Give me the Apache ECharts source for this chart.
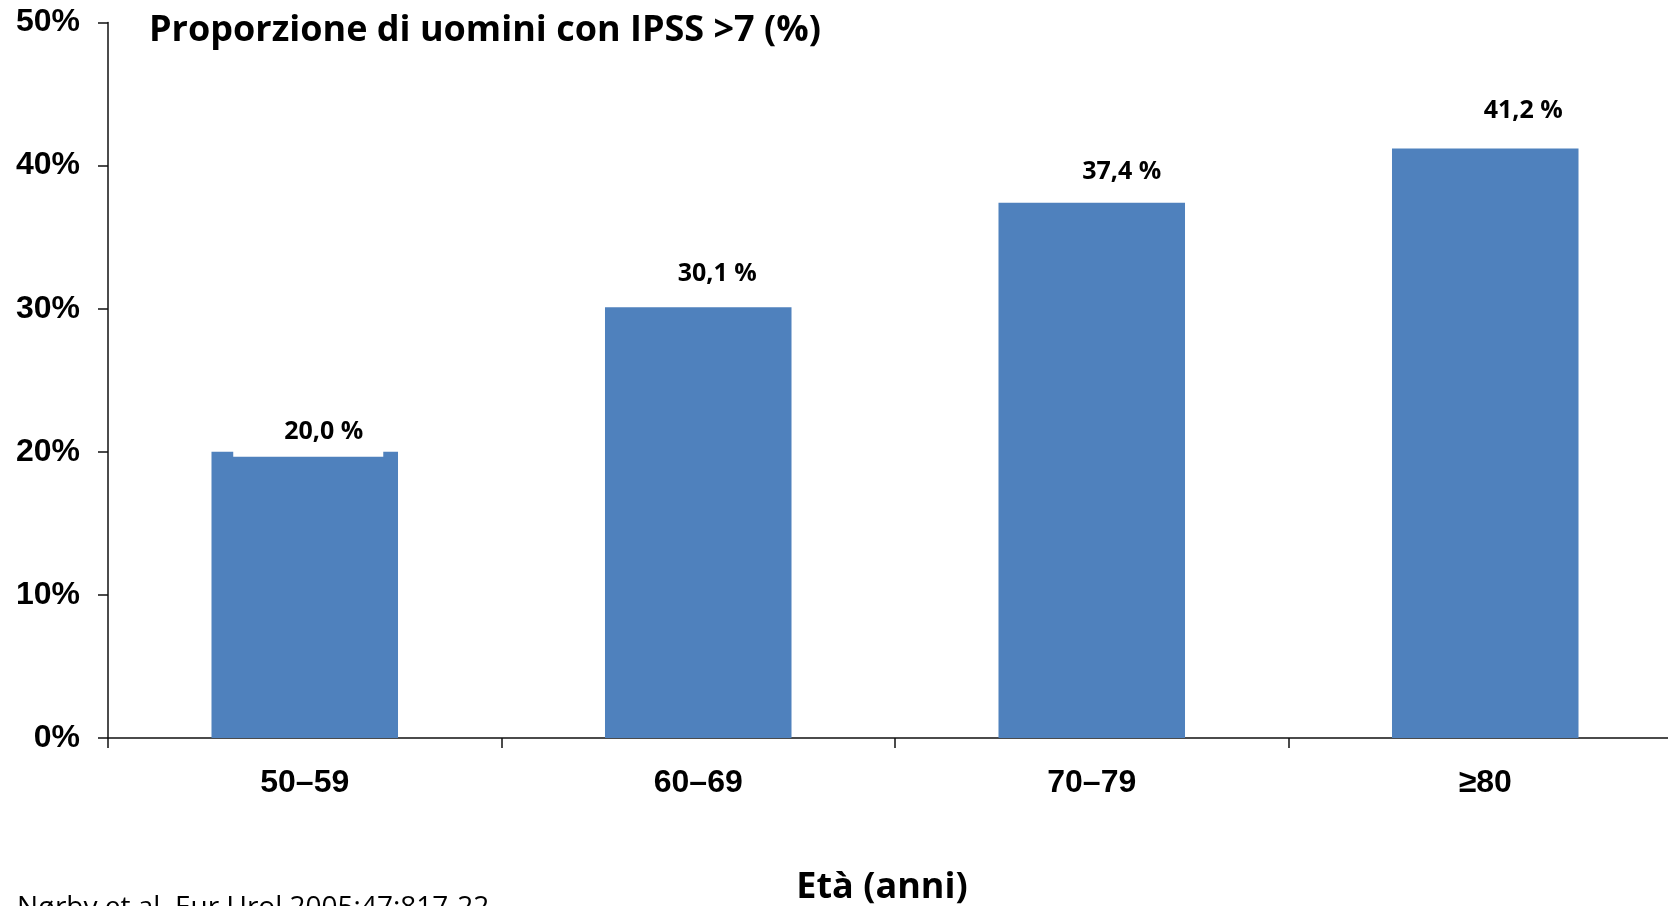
<!DOCTYPE html>
<html>
<head>
<meta charset="utf-8">
<script src="https://cdn.jsdelivr.net/npm/echarts@6/dist/echarts.min.js"></script>
<style>
  html, body { margin: 0; padding: 0; background: #ffffff; }
  #chart { width: 1668px; height: 906px; }
</style>
</head>
<body>
<div id="chart"></div>
<script>
// Age groups and share of men with IPSS > 7 (percent)
var ageGroups = ['50–59', '60–69', '70–79', '≥80'];
var ipssShare = [20.0, 30.1, 37.4, 41.2];
var yTicks = [0, 10, 20, 30, 40, 50];

var titleText = 'Proporzione di uomini con IPSS >7 (%)';
var axisTitle = 'Età (anni)';
var sourceText = 'Nørby et al. Eur Urol 2005;47:817-22';

function fmtPct(v) {
  return v.toFixed(1).replace('.', ',') + ' %';
}

// hand-placed value labels: [dx, distance above bar]
var labelPlacement = [[19, 7], [19, 21], [30, 18], [38, 25]];

var chart = echarts.init(document.getElementById('chart'), null, { renderer: 'canvas' });

var barData = ipssShare.map(function (v, i) {
  var p = labelPlacement[i];
  var item = {
    value: v,
    label: { offset: [p[0], 0], distance: p[1] }
  };
  if (i === 0) {
    // label box with white backing that bites into the top of the first bar
    item.label = {
      offset: [3.5, 0],
      distance: -5,
      backgroundColor: '#ffffff',
      padding: [0, 20, 12, 51]
    };
  }
  return item;
});

chart.setOption({
  animation: false,
  backgroundColor: '#ffffff',
  // plot area runs past the right edge of the canvas
  grid: { left: 108, top: 22.5, bottom: 168, width: 1574, containLabel: false, outerBoundsMode: 'none' },
  xAxis: {
    type: 'category',
    data: ageGroups,
    boundaryGap: true,
    axisLine: { show: true, lineStyle: { color: '#111', width: 1.5 } },
    axisTick: { show: true, length: 10, inside: false, lineStyle: { color: '#111', width: 1.5 } },
    axisLabel: {
      margin: 29,
      color: '#000',
      fontFamily: 'Liberation Sans',
      fontWeight: 'bold',
      fontSize: 32
    }
  },
  yAxis: {
    type: 'value',
    min: yTicks[0],
    max: yTicks[yTicks.length - 1],
    interval: yTicks[1] - yTicks[0],
    splitLine: { show: false },
    axisLine: { show: true, lineStyle: { color: '#111', width: 1.5 } },
    axisTick: { show: true, length: 10, inside: false, lineStyle: { color: '#111', width: 1.5 } },
    axisLabel: {
      margin: 28,
      color: '#000',
      fontFamily: 'Liberation Sans',
      fontWeight: 'bold',
      fontSize: 32,
      formatter: '{value}%'
    }
  },
  series: [{
    type: 'bar',
    data: barData,
    barWidth: '47.4%',
    itemStyle: { color: '#4F81BD' },
    label: {
      show: true,
      position: 'top',
      color: '#000',
      fontFamily: 'Open Sans',
      fontWeight: 'bold',
      fontSize: 25,
      formatter: function (p) { return fmtPct(p.value); }
    }
  }],
  graphic: [
    {
      type: 'text',
      left: 149,
      top: 13,
      style: {
        text: titleText,
        fill: '#000',
        font: 'bold 36px "Open Sans"'
      }
    },
    {
      type: 'text',
      x: 882,
      y: 870,
      style: {
        text: axisTitle,
        fill: '#000',
        font: 'bold 36px "Open Sans"',
        textAlign: 'center',
        textVerticalAlign: 'top'
      }
    },
    {
      type: 'text',
      x: 17,
      y: 894,
      style: {
        text: sourceText,
        fill: '#000',
        font: '28px "Open Sans"',
        textAlign: 'left',
        textVerticalAlign: 'top'
      }
    }
  ]
});
</script>
</body>
</html>
